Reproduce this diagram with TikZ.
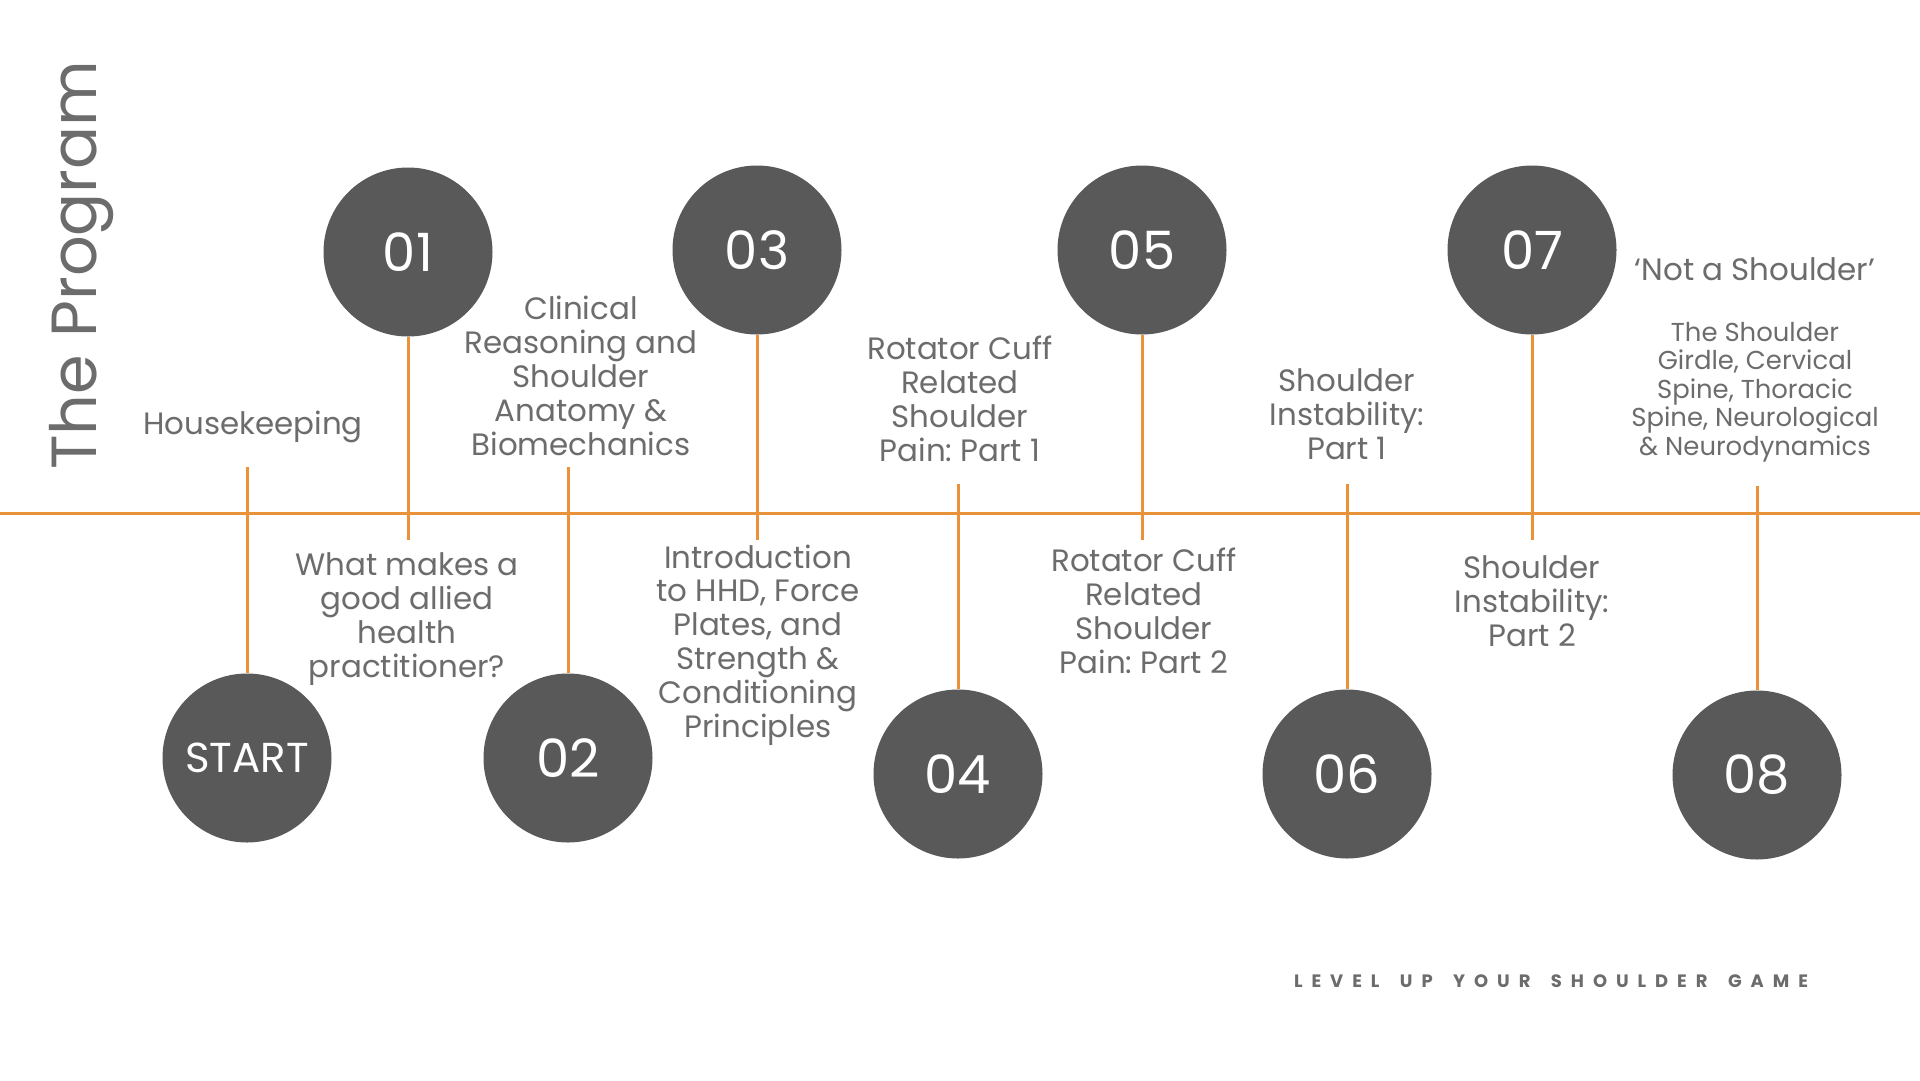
\documentclass[tikz,border=0pt]{standalone}
\usepackage{fontspec}
\setmainfont{Poppins}
\newfontfamily\taglinefont[LetterSpace=50,WordSpace=1.6]{Poppins}
\usetikzlibrary{positioning}
\definecolor{stopGray}{RGB}{89,89,89}
\definecolor{labelGray}{RGB}{108,108,108}
\definecolor{railOrange}{RGB}{234,146,58}
\frenchspacing

\tikzset{
  stop/.style={circle,fill=stopGray,minimum size=169bp,inner sep=0pt,text=white,font=\fontsize{53}{53}\selectfont},
  topic/.style={align=center,text=labelGray,inner sep=0pt,font=\fontsize{31}{34}\selectfont},
  small topic/.style={topic,font=\fontsize{26}{28.5}\selectfont},
  rail/.style={draw=railOrange,line width=3bp},
}

\begin{document}
\begin{tikzpicture}[x=1bp,y=-1bp]
\useasboundingbox[fill=white] (0,0) rectangle (1920,1080);

% timeline rail
\coordinate (railW) at (0,513);
\coordinate (railE) at (1920,513);
\draw[rail] (railW) -- (railE);

% free ends of the ticks
\coordinate (tStart) at (247,467);
\coordinate (t01) at (408,540);
\coordinate (t02) at (568,467);
\coordinate (t03) at (757,540);
\coordinate (t04) at (958,484);
\coordinate (t05) at (1142,540);
\coordinate (t06) at (1347,484);
\coordinate (t07) at (1532,540);
\coordinate (t08) at (1757,486);

% stops
\node[stop,font=\fontsize{42}{42}\selectfont] (start) at (247,758) {START};
\node[stop] (s01) at (408,252) {01};
\node[stop] (s02) at (568,758) {02};
\node[stop] (s03) at (757,250) {03};
\node[stop] (s04) at (958,774) {04};
\node[stop] (s05) at (1142,250) {05};
\node[stop] (s06) at (1347,774) {06};
\node[stop] (s07) at (1532,250) {07};
\node[stop] (s08) at (1757,775) {08};

\draw[rail] (start) -- (tStart);
\draw[rail] (s01) -- (t01);
\draw[rail] (s02) -- (t02);
\draw[rail] (s03) -- (t03);
\draw[rail] (s04) -- (t04);
\draw[rail] (s05) -- (t05);
\draw[rail] (s06) -- (t06);
\draw[rail] (s07) -- (t07);
\draw[rail] (s08) -- (t08);

% topics
\node[topic] (house) at (253,427) {Housekeeping};
\node[topic] (clinical) at (581,376) {Clinical\\Reasoning and\\Shoulder\\Anatomy \&\\Biomechanics};
\node[topic] (allied) at (407,619) {What makes a\\good allied\\health\\practitioner?};
\node[topic] (hhd) at (758,645) {Introduction\\to HHD, Force\\Plates, and\\Strength \&\\Conditioning\\Principles};
\node[topic] (cuffA) at (960,399) {Rotator Cuff\\Related\\Shoulder\\Pain: Part 1};
\node[topic] (cuffB) at (1144,611) {Rotator Cuff\\Related\\Shoulder\\Pain: Part 2};
\node[topic] (instA) at (1347,414) {Shoulder\\Instability:\\Part 1};
\node[topic] (instB) at (1532,601) {Shoulder\\Instability:\\Part 2};
\node[topic] (notsh) at (1755,269) {‘Not a Shoulder’};
\node[small topic] (girdle) at (1755,392) {The Shoulder\\Girdle, Cervical\\Spine, Thoracic\\Spine, Neurological\\\& Neurodynamics};

% title and tagline
\node[text=labelGray,rotate=90,inner sep=0pt,font=\fontsize{64}{64}\selectfont] (title) at (82,265) {The Program};
\node[text=labelGray,inner sep=0pt,font=\taglinefont\fontsize{18}{18}\bfseries] (tagline) at (1551,981) {LEVEL UP YOUR SHOULDER GAME};
\end{tikzpicture}
\end{document}
